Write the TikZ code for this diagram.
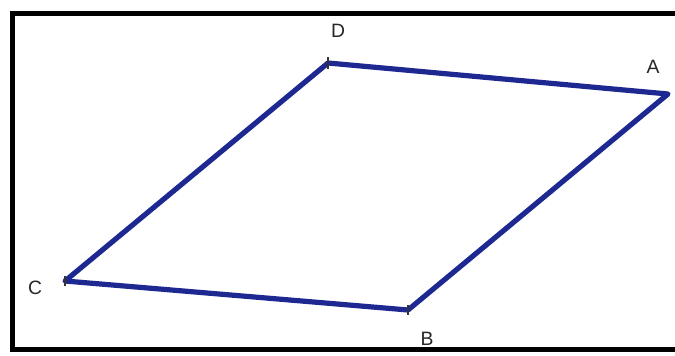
\documentclass[tikz,border=0pt]{standalone}
\usepackage{fontspec}
\setmainfont{Liberation Sans}
\definecolor{edgeblue}{RGB}{30,40,145}
\tikzset{
  side/.style={draw=edgeblue, line width=3.9pt, line join=round, line cap=round},
  vlabel/.style={font=\fontsize{14.5}{17}\selectfont, text=black!85, inner sep=0pt},
  frameline/.style={draw=black, line width=3.2pt},
  tick/.style={draw=black!80, line width=0.8pt}
}
\begin{document}
\begin{tikzpicture}[x=0.75pt,y=-0.75pt]
\useasboundingbox (0,0) rectangle (675,356);
\fill[white] (0,0) rectangle (675,356);
\begin{scope}
\clip (0,0) rectangle (675,356);
\draw[frameline] (12.5,13.5) rectangle (690,349.5);
\end{scope}
\coordinate (D) at (328,63);
\coordinate (A) at (668,94);
\coordinate (B) at (408,310);
\coordinate (C) at (65,281);
\draw[side] (D) -- (A) -- (B) -- (C) -- cycle;
\draw[tick] (328,57) -- (328,69);
\draw[tick] (65,276) -- (65,286);
\draw[tick] (408,305) -- (408,315);
\node[vlabel] (lD) at (338,31) {D};
\node[vlabel] (lA) at (653,67) {A};
\node[vlabel] (lB) at (427,339) {B};
\node[vlabel] (lC) at (35,288) {C};
\end{tikzpicture}
\end{document}
